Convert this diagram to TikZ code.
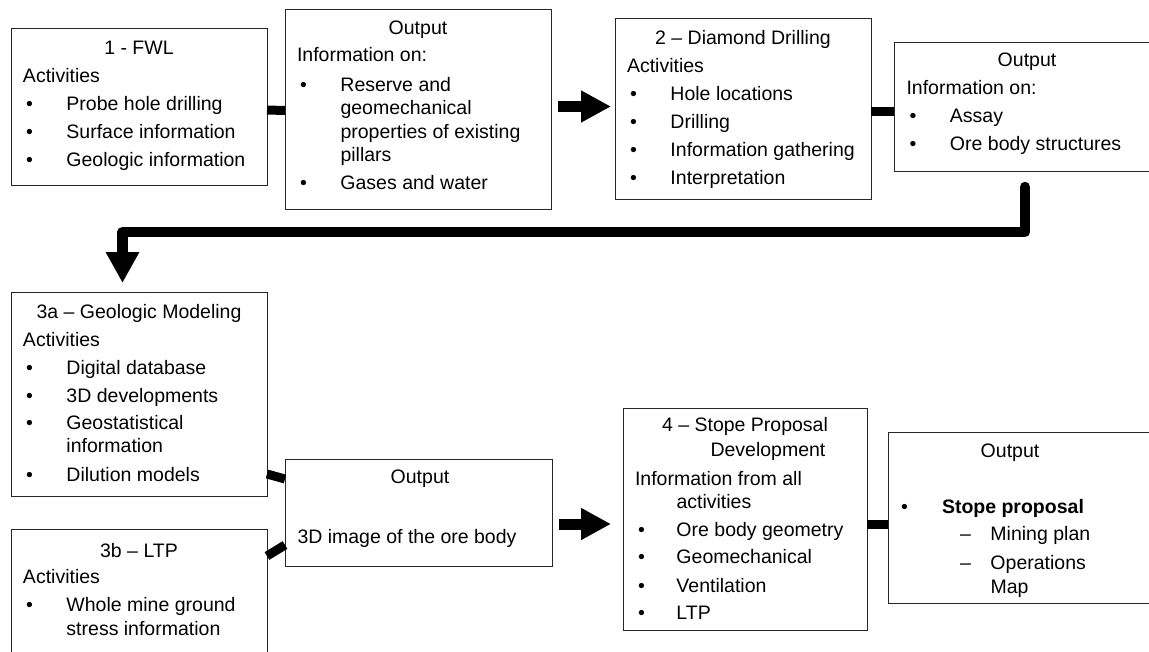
\documentclass[tikz,border=0pt]{standalone}
\usepackage{fontspec}
\setmainfont{Liberation Sans}
\usetikzlibrary{calc,arrows.meta}
\newcommand\boxfont{\fontsize{19.5}{23.3}\selectfont}
\newcommand\mybul[2][43.5pt]{\hspace*{3pt}\makebox[\dimexpr#1-3pt\relax][l]{\textbullet}#2}
\newcommand\mycont[1][43.5pt]{\hspace*{#1}}
\newcommand\mydash[1]{\hspace*{60pt}\makebox[30.5pt][l]{–}#1}
\tikzset{
  box/.style={draw=black!85, line width=1pt, rectangle, inner sep=0pt, outer sep=0pt},
  content/.style={anchor=base west, inner sep=0pt, outer sep=0pt, font=\boxfont},
  conn/.style={line width=9pt, black},
  blockarrow/.style={line width=11pt, black, -{Triangle[length=30pt,width=30pt]}},
  bigconn/.style={line width=10.5pt, black, line cap=round, line join=round,
                  -{Triangle[length=31pt,width=31.5pt]}}
}
\begin{document}
\begin{tikzpicture}[x=1pt, y=-1pt]
\useasboundingbox (0,0) rectangle (1149,651);
\clip (0,0) rectangle (1149,651);
\fill[white] (0,0) rectangle (1149,651);

% ---------- boxes ----------
\node[box, minimum width=256pt, minimum height=157pt] (b1)  at (139,106.5) {};
\node[box, minimum width=266pt, minimum height=200pt] (o1)  at (418,109) {};
\node[box, minimum width=256pt, minimum height=181pt] (b2)  at (743,108.5) {};
\node[box, minimum width=276pt, minimum height=129pt] (o2)  at (1032,106.5) {};
\node[box, minimum width=256pt, minimum height=204pt] (b3a) at (139,394) {};
\node[box, minimum width=256pt, minimum height=141pt] (b3b) at (139,599.5) {};
\node[box, minimum width=267pt, minimum height=107pt] (o3)  at (418.5,512.5) {};
\node[box, minimum width=244pt, minimum height=222pt] (b4)  at (745,519) {};
\node[box, minimum width=282pt, minimum height=171pt] (o4)  at (1029,517.5) {};

% ---------- texts ----------
\node[content] (b1t) at ($(b1.north west)+(12,26)$) {\parbox[t]{232pt}{\boxfont
\makebox[232pt]{1 - FWL}\\[4.7pt]
Activities\\[4.7pt]
\mybul{Probe hole drilling}\\[4.7pt]
\mybul{Surface information}\\[4.7pt]
\mybul{Geologic information}}};

\node[content] (o1t) at ($(o1.north west)+(12,25)$) {\parbox[t]{242pt}{\boxfont
\makebox[242pt]{Output}\\[4.2pt]
Information on:\\[6.7pt]
\mybul{Reserve and}\\
\mycont geomechanical\\
\mycont properties of existing\\
\mycont pillars\\[5pt]
\mybul{Gases and water}}};

\node[content] (b2t) at ($(b2.north west)+(12,26)$) {\parbox[t]{232pt}{\boxfont
\makebox[232pt]{2 – Diamond Drilling}\\[4.7pt]
Activities\\[4.7pt]
\mybul{Hole locations}\\[4.7pt]
\mybul{Drilling}\\[4.7pt]
\mybul{Information gathering}\\[4.7pt]
\mybul{Interpretation}}};

\node[content] (o2t) at ($(o2.north west)+(12.5,24)$) {\parbox[t]{241pt}{\boxfont
\makebox[241pt]{Output}\\[4.7pt]
Information on:\\[4.7pt]
\mybul{Assay}\\[4.7pt]
\mybul{Ore body structures}}};

\node[content] (b3at) at ($(b3a.north west)+(12,26)$) {\parbox[t]{232pt}{\boxfont
\makebox[232pt]{3a – Geologic Modeling}\\[4.7pt]
Activities\\[4.7pt]
\mybul{Digital database}\\[4.7pt]
\mybul{3D developments}\\[4.2pt]
\mybul{Geostatistical}\\
\mycont information\\[5pt]
\mybul{Dilution models}}};

\node[content] (b3bt) at ($(b3b.north west)+(12,28)$) {\parbox[t]{232pt}{\boxfont
\makebox[232pt]{3b – LTP}\\[3.2pt]
Activities\\[4.2pt]
\mybul{Whole mine ground}\\[0.7pt]
\mycont stress information}};

\node[content] (o3t) at ($(o3.north west)+(12.5,24.3)$) {\parbox[t]{245pt}{\boxfont
\makebox[245pt]{Output}\\[36.7pt]
3D image of the ore body}};

\node[content] (b4t) at ($(b4.north west)+(12,23.7)$) {\parbox[t]{220pt}{\boxfont
\makebox[220pt]{4 – Stope Proposal}\\[1.7pt]
\hspace*{75.5pt}Development\\[5pt]
Information from all\\
\mycont[41.5pt]activities\\[5pt]
\mybul[41.5pt]{Ore body geometry}\\[3.3pt]
\mybul[41.5pt]{Geomechanical}\\[6pt]
\mybul[41.5pt]{Ventilation}\\[4pt]
\mybul[41.5pt]{LTP}}};

\node[content] (o4t) at ($(o4.north west)+(12,25.3)$) {\parbox[t]{220pt}{\boxfont
\makebox[220pt]{Output}\\[32.7pt]
\hspace*{1pt}\makebox[41pt][l]{\textbullet}\textbf{Stope proposal}\\[4.1pt]
\mydash{Mining plan}\\[5.3pt]
\mydash{Operations}\\[0.7pt]
\mycont[90.5pt]Map}};

% ---------- connectors ----------
\draw[conn] ($(b1.east)+(0,3.5)$) -- ($(o1.west)+(0,1.5)$);
\draw[blockarrow] ($(o1.east)+(7,-2.5)$) -- ($(b2.west)+(-4,-2)$);
\draw[conn] ($(b2.east)+(0,2.5)$) -- ($(o2.west)+(0,4.5)$);
\draw[bigconn] ($(o2.south west)+(131,16)$) -- ++(0,45) -| ($(b3a.north)+(-16.5,-9)$);
\draw[conn] ($(b3a.east)+(0,80)$) -- ($(o3.west)+(0,-33.5)$);
\draw[conn] ($(b3b.east)+(0,-43.5)$) -- ($(o3.west)+(0,32.5)$);
\draw[blockarrow] ($(o3.east)+(7,11.5)$) -- ($(b4.west)+(-12,5)$);
\draw[conn] ($(b4.east)+(0,5)$) -- ($(o4.west)+(0,6.5)$);
\end{tikzpicture}
\end{document}
